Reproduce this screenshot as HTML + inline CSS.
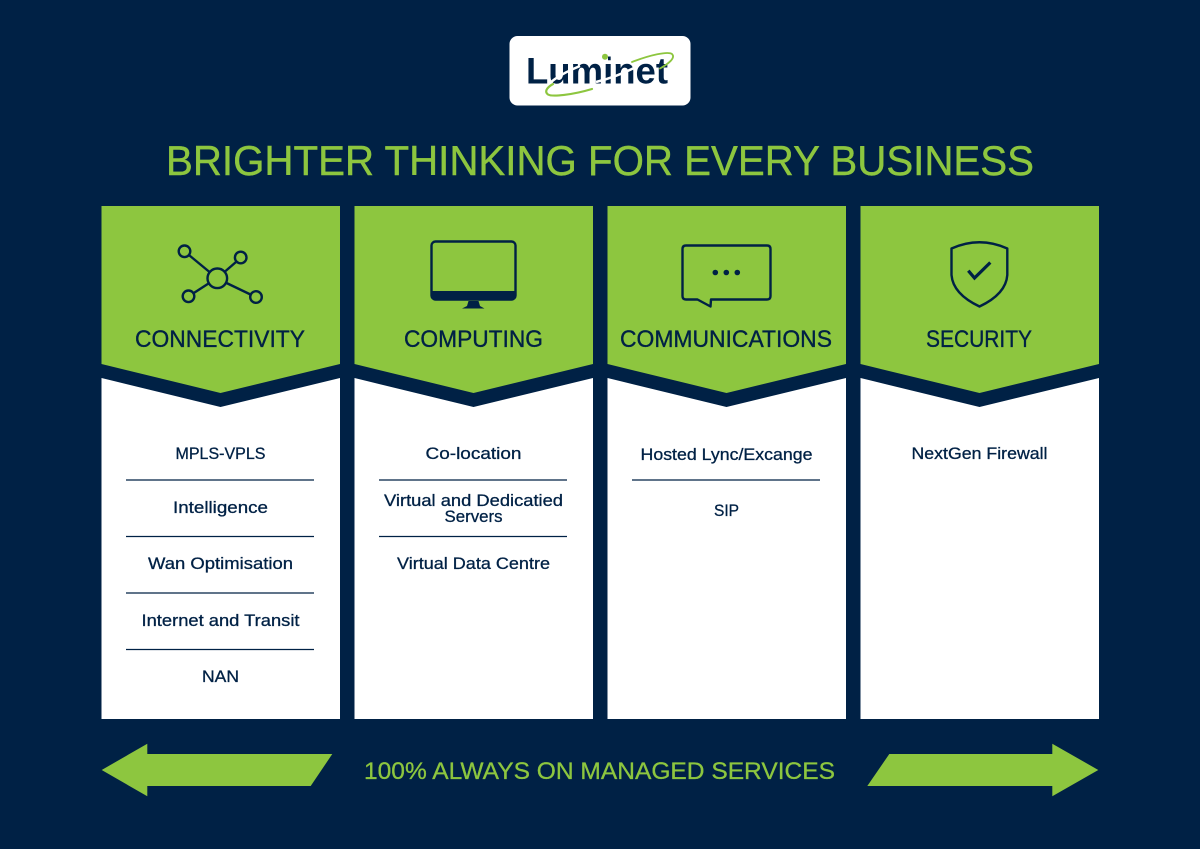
<!DOCTYPE html>
<html lang="en"><head><meta charset="utf-8"><title>Luminet</title>
<style>
html,body{margin:0;padding:0;background:#002145}
svg{display:block}
text{font-family:"Liberation Sans",sans-serif}
.h{font-size:24px;fill:#002145;stroke:#002145;stroke-width:.35}
.b{font-size:17px;fill:#002145;text-anchor:middle;stroke:#002145;stroke-width:.3}
.i{fill:none;stroke:#002145;stroke-width:2.400;stroke-linejoin:round;stroke-linecap:round}
</style></head><body>
<svg width="1200" height="849" viewBox="0 0 1200 849" xmlns="http://www.w3.org/2000/svg">
<rect width="1200" height="849" fill="#002145"/>

<rect x="509.500" y="36" width="181" height="69.500" rx="8" fill="#fff"/>
<text x="526" y="83.500" fill="#002145" font-weight="700" textLength="142" lengthAdjust="spacingAndGlyphs" style="font-size:37px">Luminet</text>
<path d="M580 66C558 75 546 84 546.500 90M596 82C608 79 622 74 634 68" fill="none" stroke="#fff" stroke-width="2.500"/>
<path d="M553 84C546 88 544.500 92 548 94.500C552 97 572 95 592 89" fill="none" stroke="#8dc63f" stroke-width="2.200" stroke-linecap="round"/>
<path d="M632 62C650 55 668 51 672 54C676 58 668 64 660 68.500" fill="none" stroke="#8dc63f" stroke-width="1.800" stroke-linecap="round"/>
<rect x="602" y="54" width="6" height="8" fill="#fff"/>
<circle cx="605" cy="56.800" r="3" fill="#8dc63f"/>

<text x="166" y="175" fill="#8dc63f" stroke="#8dc63f" stroke-width=".4" textLength="868" lengthAdjust="spacingAndGlyphs" style="font-size:42px">BRIGHTER THINKING FOR EVERY BUSINESS</text>

<g fill="#fff">
<path d="M101.500 378L220.500 407L340 378V719H101.500Z"/>
<path d="M354.500 378L473.500 407L593 378V719H354.500Z"/>
<path d="M607.500 378L726.500 407L846 378V719H607.500Z"/>
<path d="M860.500 378L979.500 407L1099 378V719H860.500Z"/>
</g>
<g fill="#8dc63f">
<path d="M101.500 206H340V364L220.500 393L101.500 364Z"/>
<path d="M354.500 206H593V364L473.500 393L354.500 364Z"/>
<path d="M607.500 206H846V364L726.500 393L607.500 364Z"/>
<path d="M860.500 206H1099V364L979.500 393L860.500 364Z"/>
</g>

<g class="i">
<circle cx="217.300" cy="278.300" r="9.800"/>
<circle cx="184.500" cy="251.300" r="5.800"/>
<circle cx="240.700" cy="257.500" r="5.800"/>
<circle cx="188.500" cy="296.300" r="5.800"/>
<circle cx="256" cy="297" r="5.800"/>
<path d="M189.500 255.500L209.500 272M225 271.500L236 262M208.500 283.500L193.800 293M226.500 283L250.500 294.500"/>
</g>

<rect x="431.500" y="241.500" width="84" height="58" rx="4" fill="none" stroke="#002145" stroke-width="2.400"/>
<path d="M431 291H516V296Q516 300 512 300H435Q431 300 431 296Z" fill="#002145"/>
<path d="M468.500 301H478.500L480 306L484.500 308.500H462L467 306Z" fill="#002145"/>

<path class="i" d="M686 245.500H767Q770.500 245.500 770.500 249V296Q770.500 299.500 767 299.500H711L710.500 306.500L697.500 299.500H686Q682.500 299.500 682.500 296V249Q682.500 245.500 686 245.500Z"/>
<circle cx="715.300" cy="272.500" r="2.800" fill="#002145"/>
<circle cx="726.300" cy="272.500" r="2.800" fill="#002145"/>
<circle cx="737.300" cy="272.500" r="2.800" fill="#002145"/>

<path class="i" d="M951.500 248.500Q979.500 236 1007.300 248.500V275Q1006 294 979.500 306.500Q953 294 951.500 275Z"/>
<path d="M968.300 270.700L974.500 278L990.300 262.500" fill="none" stroke="#002145" stroke-width="3.200"/>

<g class="h">
<text x="135" y="347" textLength="170" lengthAdjust="spacingAndGlyphs">CONNECTIVITY</text>
<text x="404" y="347" textLength="139" lengthAdjust="spacingAndGlyphs">COMPUTING</text>
<text x="620" y="347" textLength="212" lengthAdjust="spacingAndGlyphs">COMMUNICATIONS</text>
<text x="926" y="347" textLength="106" lengthAdjust="spacingAndGlyphs">SECURITY</text>
</g>

<g stroke="#002145" stroke-width="1.300">
<path d="M126 480H314M126 536.500H314M126 593H314M126 649.500H314"/>
<path d="M379 480H567M379 536.500H567"/>
<path d="M632 480H820"/>
</g>

<g class="b">
<text x="220.500" y="459" textLength="90" lengthAdjust="spacingAndGlyphs">MPLS-VPLS</text>
<text x="220.500" y="513" textLength="95" lengthAdjust="spacingAndGlyphs">Intelligence</text>
<text x="220.500" y="569" textLength="145" lengthAdjust="spacingAndGlyphs">Wan Optimisation</text>
<text x="220.500" y="626" textLength="158" lengthAdjust="spacingAndGlyphs">Internet and Transit</text>
<text x="220.500" y="682" textLength="37" lengthAdjust="spacingAndGlyphs">NAN</text>

<text x="473.500" y="459" textLength="96" lengthAdjust="spacingAndGlyphs">Co-location</text>
<text x="473.500" y="506" textLength="179" lengthAdjust="spacingAndGlyphs">Virtual and Dedicatied</text>
<text x="473.500" y="522" textLength="58" lengthAdjust="spacingAndGlyphs">Servers</text>
<text x="473.500" y="569" textLength="153" lengthAdjust="spacingAndGlyphs">Virtual Data Centre</text>

<text x="726.500" y="460" textLength="172" lengthAdjust="spacingAndGlyphs">Hosted Lync/Excange</text>
<text x="726.500" y="516" textLength="25" lengthAdjust="spacingAndGlyphs">SIP</text>

<text x="979.500" y="459" textLength="136" lengthAdjust="spacingAndGlyphs">NextGen Firewall</text>
</g>

<path d="M101.700 770L147.300 743.700V754H332.300L310.700 786H147.300V796.300Z" fill="#8dc63f"/>
<path d="M1098.300 770L1052.300 743.700V754H889.300L867.300 786H1052.300V796.300Z" fill="#8dc63f"/>
<text x="364" y="779" fill="#8dc63f" stroke="#8dc63f" stroke-width=".3" textLength="471" lengthAdjust="spacingAndGlyphs" style="font-size:24.500px">100% ALWAYS ON MANAGED SERVICES</text>
</svg>
</body></html>
